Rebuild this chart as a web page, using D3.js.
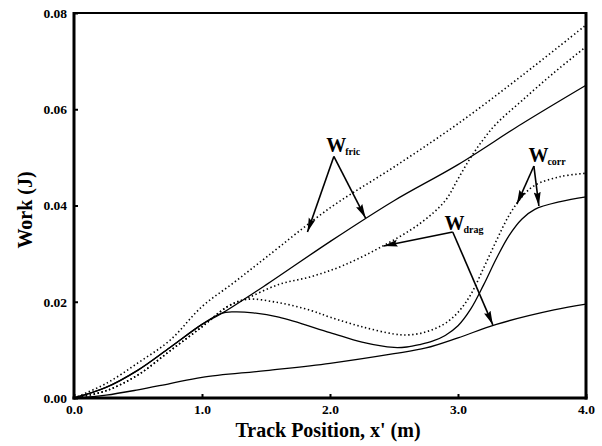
<!DOCTYPE html>
<html>
<head>
<meta charset="utf-8">
<script src="https://cdn.jsdelivr.net/npm/d3@7"></script>
<style>
body { margin: 0; background: #fff; }
svg { display: block; }
</style>
</head>
<body>
<svg id="chart" width="602" height="446"></svg>
<script>
// track position (m) and work (J)
var fricDottedX = [0, 0.25, 0.5, 0.75, 1.0, 1.25, 1.5, 2.0, 2.5, 3.0, 3.5, 4.0];
var fricDottedY = [0, 0.003, 0.0073, 0.012, 0.019, 0.024, 0.0292, 0.0395, 0.048, 0.057, 0.067, 0.0775];

var fricSolidX = [0, 0.25, 0.5, 0.75, 1.0, 1.15, 1.5, 2.0, 2.5, 3.0, 3.5, 4.0];
var fricSolidY = [0, 0.0022, 0.0058, 0.0105, 0.0153, 0.0175, 0.0235, 0.0325, 0.041, 0.0485, 0.057, 0.065];

var dragDottedX = [0, 0.25, 0.5, 0.75, 1.0, 1.2, 1.35, 1.6, 1.85, 2.1, 2.4, 2.7, 2.9, 3.0, 3.1, 3.2, 3.3, 3.5, 3.75, 4.0];
var dragDottedY = [0, 0.0015, 0.0048, 0.0098, 0.0148, 0.019, 0.0207, 0.0236, 0.0252, 0.0275, 0.0314, 0.0362, 0.041, 0.0455, 0.05, 0.0538, 0.057, 0.0618, 0.0676, 0.073];

var corrDottedX = [0, 0.25, 0.5, 0.75, 1.0, 1.2, 1.35, 1.6, 1.85, 2.0, 2.25, 2.5, 2.6, 2.7, 2.8, 2.9, 3.0, 3.1, 3.2, 3.3, 3.4, 3.5, 3.6, 3.8, 4.0];
var corrDottedY = [0, 0.0015, 0.0048, 0.0098, 0.0148, 0.019, 0.0205, 0.0198, 0.0182, 0.0168, 0.0148, 0.0133, 0.0131, 0.0134, 0.0142, 0.0155, 0.0178, 0.0215, 0.027, 0.0327, 0.038, 0.0418, 0.0442, 0.046, 0.0467];

var corrSolidX = [0, 0.25, 0.5, 0.75, 1.0, 1.15, 1.25, 1.4, 1.6, 2.0, 2.25, 2.5, 2.6, 2.7, 2.8, 2.9, 3.0, 3.1, 3.2, 3.3, 3.4, 3.5, 3.6, 3.8, 4.0];
var corrSolidY = [0, 0.0022, 0.0058, 0.0105, 0.0153, 0.0176, 0.0179, 0.0177, 0.0168, 0.0136, 0.0116, 0.0105, 0.0106, 0.0111, 0.0118, 0.013, 0.015, 0.0185, 0.0235, 0.029, 0.0338, 0.0372, 0.0392, 0.0408, 0.0418];

var dragSolidX = [0, 0.25, 0.5, 0.75, 1.0, 1.5, 2.0, 2.5, 2.75, 3.0, 3.3, 3.75, 4.0];
var dragSolidY = [0, 0.0006, 0.0017, 0.003, 0.0043, 0.0057, 0.0072, 0.0092, 0.0104, 0.0125, 0.0153, 0.0183, 0.0195];

var xTicks = [0, 1, 2, 3, 4];
var yTicks = [0, 0.02, 0.04, 0.06, 0.08];

var series = [
    { x: fricDottedX, y: fricDottedY, dotted: true },
    { x: fricSolidX, y: fricSolidY, dotted: false },
    { x: dragDottedX, y: dragDottedY, dotted: true },
    { x: corrDottedX, y: corrDottedY, dotted: true },
    { x: corrSolidX, y: corrSolidY, dotted: false },
    { x: dragSolidX, y: dragSolidY, dotted: false }
];

// note: "top" is taken by window.top, so the plot edges get their own names
var plotL = 74, plotR = 586, plotT = 13, plotB = 398;

var svg = d3.select('#chart');
var x = d3.scaleLinear().domain([0, 4]).range([plotL, plotR]);
var y = d3.scaleLinear().domain([0, 0.08]).range([plotB, plotT]);

var fontFam = '"Liberation Serif", "Times New Roman", serif';

svg.append('defs').append('marker')
    .attr('id', 'head')
    .attr('viewBox', '0 0 14 8')
    .attr('refX', 14).attr('refY', 4)
    .attr('markerWidth', 14).attr('markerHeight', 8)
    .attr('markerUnits', 'userSpaceOnUse')
    .attr('orient', 'auto')
    .append('path').attr('d', 'M0,0.5L14,4L0,7.5L2,4Z').attr('fill', '#000');

var line = d3.line()
    .x(function (d) { return x(d[0]); })
    .y(function (d) { return y(d[1]); })
    .curve(d3.curveCatmullRom.alpha(0.5));

svg.append('g').selectAll('path').data(series).enter().append('path')
    .attr('d', function (s) { return line(d3.zip(s.x, s.y)); })
    .attr('fill', 'none')
    .attr('stroke', '#000')
    .attr('stroke-width', function (s) { return s.dotted ? 1.6 : 1.3; })
    .attr('stroke-dasharray', function (s) { return s.dotted ? '1.4,2.6' : null; });

// axes with inward ticks
var yAxis = svg.append('g').attr('transform', 'translate(' + plotL + ',0)')
    .call(d3.axisLeft(y).tickValues(yTicks).tickFormat(d3.format('.2f')).tickSizeInner(-4).tickSizeOuter(0).tickPadding(7));
var xAxis = svg.append('g').attr('transform', 'translate(0,' + plotB + ')')
    .call(d3.axisBottom(x).tickValues(xTicks).tickFormat(d3.format('.1f')).tickSizeInner(-4).tickSizeOuter(0).tickPadding(6));
[yAxis, xAxis].forEach(function (g) {
    g.select('.domain').remove();
    g.selectAll('.tick line').attr('stroke', '#000').attr('stroke-width', 2);
    g.selectAll('.tick text')
        .attr('fill', '#000')
        .style('font-family', fontFam)
        .style('font-weight', 'bold')
        .style('font-size', '13.5px');
});

// frame
svg.append('line').attr('x1', plotL).attr('x2', plotR).attr('y1', plotT).attr('y2', plotT)
    .attr('stroke', '#000').attr('stroke-width', 1.8);
svg.append('line').attr('x1', plotR).attr('x2', plotR).attr('y1', plotT - 1).attr('y2', plotB + 1.5)
    .attr('stroke', '#000').attr('stroke-width', 3);
svg.append('line').attr('x1', plotL).attr('x2', plotL).attr('y1', plotT - 1).attr('y2', plotB + 1.5)
    .attr('stroke', '#000').attr('stroke-width', 3);
svg.append('line').attr('x1', plotL - 1.5).attr('x2', plotR + 1.5).attr('y1', plotB).attr('y2', plotB)
    .attr('stroke', '#000').attr('stroke-width', 3);

svg.append('text')
    .attr('transform', 'translate(32,210) rotate(-90)')
    .attr('text-anchor', 'middle')
    .style('font-family', fontFam).style('font-weight', 'bold').style('font-size', '20px')
    .text('Work (J)');
svg.append('text')
    .attr('x', 328).attr('y', 437)
    .attr('text-anchor', 'middle')
    .style('font-family', fontFam).style('font-weight', 'bold').style('font-size', '20px')
    .text("Track Position, x' (m)");

// labels with arrows, in data units; "at" is the left end of the W
var notes = [
    { name: 'fric', at: [1.97, 0.0512], from: [2.03, 0.0502], to: [[1.824, 0.0345], [2.278, 0.0374]] },
    { name: 'corr', at: [3.55, 0.0491], from: [3.593, 0.0482], to: [[3.46, 0.0403], [3.632, 0.0399]] },
    { name: 'drag', at: [2.895, 0.0349], from: [2.959, 0.0345], to: [[2.419, 0.0316], [3.272, 0.0152]] }
];

var ann = svg.append('g');
notes.forEach(function (n) {
    n.to.forEach(function (t) {
        ann.append('line')
            .attr('x1', x(n.from[0])).attr('y1', y(n.from[1]))
            .attr('x2', x(t[0])).attr('y2', y(t[1]))
            .attr('stroke', '#000').attr('stroke-width', 1.6)
            .attr('marker-end', 'url(#head)');
    });
    var t = ann.append('text')
        .attr('x', x(n.at[0])).attr('y', y(n.at[1]))
        .style('font-family', fontFam).style('font-weight', 'bold').style('font-size', '20px');
    t.append('tspan').text('W');
    t.append('tspan').attr('dx', -1).attr('dy', 3).style('font-size', '10px').text(n.name);
});
</script>
</body>
</html>
